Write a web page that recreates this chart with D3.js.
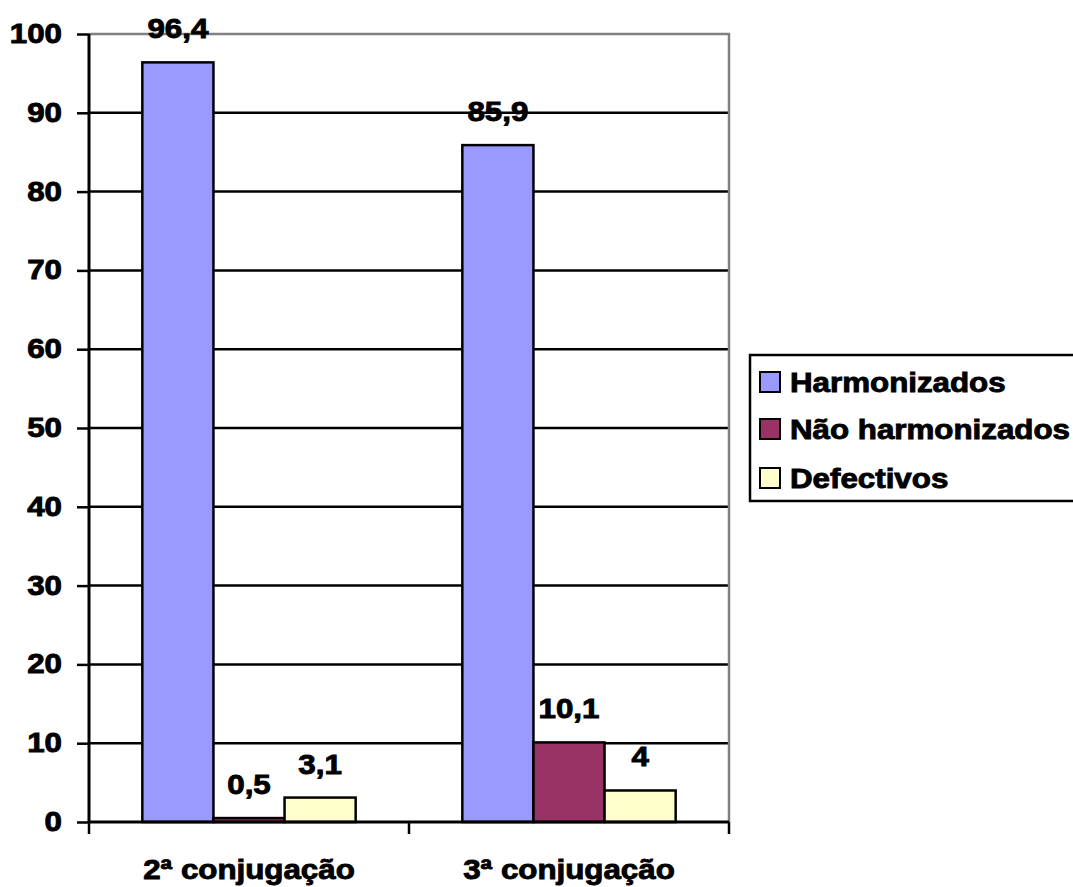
<!DOCTYPE html>
<html>
<head>
<meta charset="utf-8">
<script src="https://cdn.jsdelivr.net/npm/d3@7"></script>
<style>
  body { margin: 0; background: #fff; }
  text { font-family: "Liberation Sans", Arial, sans-serif; font-weight: bold; fill: #000;
         stroke: #000; stroke-width: 0.9px; }
</style>
</head>
<body>
<div id="chart-area"></div>
<script>
const categories = ["2ª conjugação", "3ª conjugação"];
const seriesNames = ["Harmonizados", "Não harmonizados", "Defectivos"];
const harmonizados = [96.4, 85.9];
const naoHarmonizados = [0.5, 10.1];
const defectivos = [3.1, 4];
const yTicks = [0, 10, 20, 30, 40, 50, 60, 70, 80, 90, 100];

const seriesValues = [harmonizados, naoHarmonizados, defectivos];
const colors = ["#9999FF", "#993366", "#FFFFCC"];

const svgWidth = 1073;
const svgHeight = 887;
const svg = d3.select("#chart-area")
              .append("svg")
              .attr("width", svgWidth)
              .attr("height", svgHeight);

const plot = { left: 89, right: 729, top: 34, bottom: 822 };
const fontSize = 27;
const stretch = 1.16; // source text is wider than plain Arial

// text helper: places text at (x, y), stretched horizontally
function label(x, y, str, anchor) {
  return svg.append("text")
    .attr("transform", `translate(${x},${y}) scale(${stretch},1)`)
    .attr("text-anchor", anchor)
    .style("font-size", fontSize + "px")
    .text(str);
}

const x0 = d3.scaleBand()
             .domain(categories)
             .range([plot.left, plot.right])
             .paddingInner(0)
             .paddingOuter(0);

const x1 = d3.scaleBand()
             .domain(seriesNames)
             .range([0, x0.bandwidth()])
             .paddingInner(0)
             .paddingOuter(0.75);

const y = d3.scaleLinear()
            .domain([0, 100])
            .range([plot.bottom, plot.top]);

const color = d3.scaleOrdinal()
                .domain(seriesNames)
                .range(colors);

// gridlines
svg.selectAll("line.grid")
  .data(yTicks.filter(t => t > 0 && t < 100))
  .enter()
  .append("line")
  .attr("x1", plot.left)
  .attr("x2", plot.right)
  .attr("y1", d => y(d))
  .attr("y2", d => y(d))
  .attr("stroke", "#000")
  .attr("stroke-width", 2.5);

// plot area border (grey top and right)
svg.append("path")
  .attr("d", `M${plot.left},${y(100)}H${plot.right}V${plot.bottom}`)
  .attr("fill", "none")
  .attr("stroke", "#808080")
  .attr("stroke-width", 2.5);

// bars
const rows = [];
categories.forEach((c, i) => {
  seriesNames.forEach((s, j) => {
    rows.push({ cat: c, series: s, value: seriesValues[j][i] });
  });
});

svg.selectAll("rect.bar")
  .data(rows)
  .enter()
  .append("rect")
  .attr("x", d => x0(d.cat) + x1(d.series))
  .attr("y", d => y(d.value))
  .attr("width", x1.bandwidth())
  .attr("height", d => y(0) - y(d.value))
  .attr("fill", d => color(d.series))
  .attr("stroke", "#000")
  .attr("stroke-width", 2.5);

// value labels
rows.forEach(d => {
  label(x0(d.cat) + x1(d.series) + x1.bandwidth() / 2, y(d.value) - 24,
        String(d.value).replace(".", ","), "middle");
});

// y axis
const yAxis = d3.axisLeft(y).tickValues(yTicks).tickSize(12).tickFormat("");
const gy = svg.append("g")
  .attr("transform", `translate(${plot.left},0)`)
  .call(yAxis);
gy.select(".domain").attr("stroke", "#000").attr("stroke-width", 3)
  .attr("d", `M0,${plot.top}V${plot.bottom}`);
gy.selectAll(".tick line").attr("stroke", "#000").attr("stroke-width", 2.5);

yTicks.forEach(t => label(62, y(t) + 9, String(t), "end"));

// x axis
const xAxis = d3.axisBottom(x0).tickSize(0).tickFormat("");
const gx = svg.append("g")
  .attr("transform", `translate(0,${plot.bottom})`)
  .call(xAxis);
gx.select(".domain").attr("stroke", "#000").attr("stroke-width", 3)
  .attr("d", `M${plot.left},0H${plot.right}`);
gx.selectAll(".tick").remove();

// category separator ticks
const sepX = [plot.left].concat(categories.map(c => x0(c) + x0.bandwidth()));
svg.selectAll("line.xtick")
  .data(sepX)
  .enter()
  .append("line")
  .attr("x1", d => d)
  .attr("x2", d => d)
  .attr("y1", plot.bottom)
  .attr("y2", plot.bottom + 12)
  .attr("stroke", "#000")
  .attr("stroke-width", 2.5);

categories.forEach(c => label(x0(c) + x0.bandwidth() / 2, 879, c, "middle"));

// legend
svg.append("rect")
  .attr("x", 750)
  .attr("y", 355)
  .attr("width", 340)
  .attr("height", 146)
  .attr("fill", "#fff")
  .attr("stroke", "#000")
  .attr("stroke-width", 2.5);

const legendY = [382, 429, 478];
seriesNames.forEach((s, i) => {
  svg.append("rect")
    .attr("x", 760)
    .attr("y", legendY[i] - 10)
    .attr("width", 20)
    .attr("height", 20)
    .attr("fill", color(s))
    .attr("stroke", "#000")
    .attr("stroke-width", 2);
  label(790, legendY[i] + 9.5, s, "start");
});
</script>
</body>
</html>
